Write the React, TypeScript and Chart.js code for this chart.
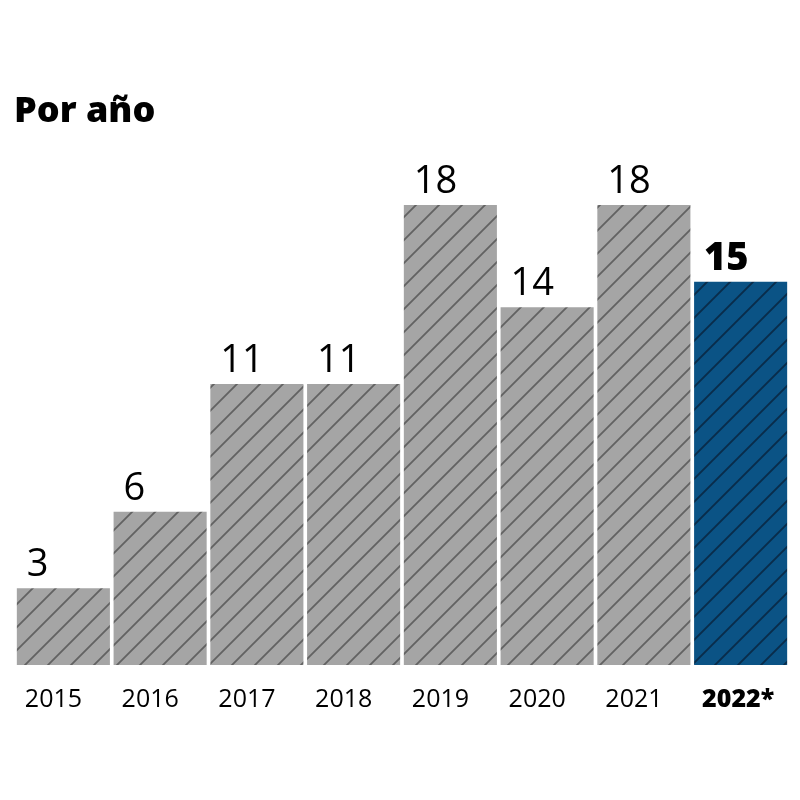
import React, { useEffect, useRef } from "react";
import { Chart, registerables } from "chart.js";

Chart.register(...registerables);

const TITLE = "Por año";
const categories = ["2015", "2016", "2017", "2018", "2019", "2020", "2021", "2022*"];
const values = [3, 6, 11, 11, 18, 14, 18, 15];
const highlightIndex = 7;

const FONT = "'Open Sans', 'DejaVu Sans', sans-serif";

function makePattern(bg: string, line: string): CanvasPattern | string {
  const size = 23;
  const c = document.createElement("canvas");
  c.width = size;
  c.height = size;
  const ctx = c.getContext("2d");
  if (!ctx) return bg;
  ctx.fillStyle = bg;
  ctx.fillRect(0, 0, size, size);
  ctx.strokeStyle = line;
  ctx.lineWidth = 1.8;
  ctx.beginPath();
  ctx.moveTo(-2, size + 2);
  ctx.lineTo(size + 2, -2);
  ctx.moveTo(-2, 2);
  ctx.lineTo(2, -2);
  ctx.moveTo(size - 2, size + 2);
  ctx.lineTo(size + 2, size - 2);
  ctx.stroke();
  const p = ctx.createPattern(c, "repeat");
  return p || bg;
}

export default function App() {
  const ref = useRef<HTMLCanvasElement>(null);

  useEffect(() => {
    if (!ref.current) return;
    const grayPat = makePattern("#a5a5a5", "#626262");
    const bluePat = makePattern("#0b5385", "#0a2c4a");

    const labelPlugin = {
      id: "valueLabels",
      afterDatasetsDraw(chart: any) {
        const ctx = chart.ctx;
        const meta = chart.getDatasetMeta(0);
        const xScale = chart.scales.x;
        const labels = xScale.getLabels();
        ctx.save();
        ctx.textAlign = "left";
        ctx.textBaseline = "alphabetic";
        ctx.fillStyle = "#000";
        meta.data.forEach((bar: any, i: number) => {
          const left = bar.x - bar.width / 2;
          const hi = i === highlightIndex;
          ctx.font = (hi ? "800 " : "400 ") + "38px " + FONT;
          ctx.fillText(String(values[i]), left + 10, bar.y - 12);
          ctx.font = (hi ? "800 " : "400 ") + "25px " + FONT;
          ctx.fillText(String(labels[i]), left + 8, xScale.top + 42);
        });
        ctx.restore();
      },
    };

    const titlePlugin = {
      id: "customTitle",
      afterDraw(chart: any) {
        const ctx = chart.ctx;
        ctx.save();
        ctx.fillStyle = "#000";
        ctx.font = "800 36px " + FONT;
        ctx.textAlign = "left";
        ctx.textBaseline = "alphabetic";
        ctx.fillText(TITLE, 14, 122);
        ctx.restore();
      },
    };

    const chart = new Chart(ref.current, {
      type: "bar",
      data: {
        labels: categories,
        datasets: [
          {
            data: values,
            backgroundColor: values.map((_, i) => (i === highlightIndex ? bluePat : grayPat)) as any,
            borderWidth: 0,
            categoryPercentage: 1,
            barPercentage: 0.962,
          },
        ],
      },
      options: {
        animation: false,
        responsive: false,
        maintainAspectRatio: false,
        layout: { padding: { top: 154, left: 15, right: 11, bottom: 0 } },
        plugins: {
          legend: { display: false },
          tooltip: { enabled: false },
          title: { display: false },
        },
        scales: {
          x: {
            grid: { display: false },
            border: { display: false },
            ticks: { display: false },
            afterFit: (scale: any) => {
              scale.height = 135;
            },
          },
          y: {
            display: false,
            min: 0,
            max: 20,
          },
        },
      },
      plugins: [labelPlugin, titlePlugin],
    });
    return () => chart.destroy();
  }, []);

  return (
    <div style={{ position: "fixed", left: 0, top: 0, width: 800, height: 800, background: "#fff" }}>
      <canvas ref={ref} width={800} height={800} style={{ width: 800, height: 800, display: "block" }} />
    </div>
  );
}
